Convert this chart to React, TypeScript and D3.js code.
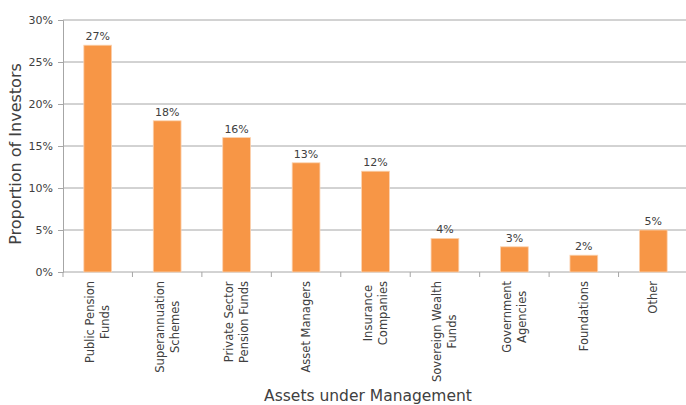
import React, { useEffect, useRef } from 'react';
import * as d3 from 'd3';

const categories = [
  'Public Pension|Funds',
  'Superannuation|Schemes',
  'Private Sector|Pension Funds',
  'Asset Managers',
  'Insurance|Companies',
  'Sovereign Wealth|Funds',
  'Government|Agencies',
  'Foundations',
  'Other',
];
const shares = [27, 18, 16, 13, 12, 4, 3, 2, 5];
const yTicks = [0, 5, 10, 15, 20, 25, 30];

const width = 686;
const height = 405;
const margin = { top: 20, right: -2, bottom: 133, left: 63 };
const font = '"DejaVu Sans", sans-serif';
const textColor = '#404040';
const gridColor = '#a6a6a6';

const App: React.FC = () => {
  const ref = useRef<SVGSVGElement>(null);

  useEffect(() => {
    const svg = d3.select(ref.current);
    svg.selectAll('*').remove();

    const x = d3.scaleBand<number>()
      .domain(d3.range(categories.length))
      .range([margin.left, width - margin.right])
      .paddingInner(0.6).paddingOuter(0.3);
    const band = d3.scaleBand<number>()
      .domain(d3.range(categories.length))
      .range([margin.left, width - margin.right]);
    const y = d3.scaleLinear().domain([0, 30]).range([height - margin.bottom, margin.top]);

    // gridlines
    svg.append('g')
      .selectAll('line')
      .data(yTicks.slice(1))
      .join('line')
      .attr('x1', margin.left).attr('x2', width)
      .attr('y1', d => y(d)).attr('y2', d => y(d))
      .attr('stroke', gridColor).attr('stroke-width', 1);

    // y axis
    const yAxis = svg.append('g')
      .attr('transform', `translate(${margin.left},0)`)
      .call(d3.axisLeft(y).tickValues(yTicks).tickFormat(d => `${d}%`).tickSize(5).tickPadding(5));
    yAxis.select('.domain').attr('stroke', gridColor);
    yAxis.selectAll('.tick line').attr('stroke', gridColor);
    yAxis.selectAll('text').attr('fill', textColor).style('font-family', font).style('font-size', '11px');

    // x axis
    const y0 = y(0);
    svg.append('line')
      .attr('x1', margin.left).attr('x2', width)
      .attr('y1', y0).attr('y2', y0)
      .attr('stroke', gridColor);
    svg.append('g')
      .selectAll('line')
      .data(d3.range(categories.length + 1))
      .join('line')
      .attr('x1', i => margin.left + i * band.bandwidth())
      .attr('x2', i => margin.left + i * band.bandwidth())
      .attr('y1', y0).attr('y2', y0 + 5)
      .attr('stroke', gridColor);

    // bars
    svg.append('g')
      .selectAll('rect')
      .data(shares)
      .join('rect')
      .attr('x', (_, i) => x(i)!)
      .attr('width', x.bandwidth())
      .attr('y', d => y(d))
      .attr('height', d => y0 - y(d))
      .attr('fill', '#f79646')
      .attr('stroke', '#fbd2b0')
      .attr('stroke-width', 0.8);

    // value labels
    svg.append('g')
      .selectAll('text')
      .data(shares)
      .join('text')
      .attr('x', (_, i) => x(i)! + x.bandwidth() / 2)
      .attr('y', d => y(d) - 5)
      .attr('text-anchor', 'middle')
      .attr('fill', textColor)
      .style('font-family', font)
      .style('font-size', '11px')
      .text(d => `${d}%`);

    // category labels, rotated
    const lineH = 15;
    categories.forEach((c, i) => {
      const lines = c.split('|');
      const cx = band(i)! + band.bandwidth() / 2;
      const g = svg.append('g');
      const texts = lines.map(ln =>
        g.append('text')
          .attr('text-anchor', 'middle')
          .attr('fill', textColor)
          .style('font-family', font)
          .style('font-size', '11.5px')
          .text(ln)
      );
      const maxW = d3.max(texts, t => (t.node() as SVGTextElement).getComputedTextLength()) ?? 0;
      const cy = y0 + 9 + maxW / 2;
      texts.forEach((t, j) => {
        const dx = (j - (lines.length - 1) / 2) * lineH + 4;
        t.attr('transform', `translate(${cx + dx},${cy}) rotate(-90)`);
      });
    });

    // axis titles
    svg.append('text')
      .attr('transform', `translate(21,${(margin.top + y0) / 2 + 8}) rotate(-90)`)
      .attr('text-anchor', 'middle')
      .attr('fill', textColor)
      .style('font-family', font)
      .style('font-size', '16px')
      .text('Proportion of Investors');
    svg.append('text')
      .attr('x', 368)
      .attr('y', 401)
      .attr('text-anchor', 'middle')
      .attr('fill', textColor)
      .style('font-family', font)
      .style('font-size', '15.5px')
      .text('Assets under Management');
  }, []);

  return (
    <svg ref={ref} width={width} height={height}
      style={{ position: 'absolute', left: 0, top: 0, background: '#fff' }} />
  );
};

export default App;
